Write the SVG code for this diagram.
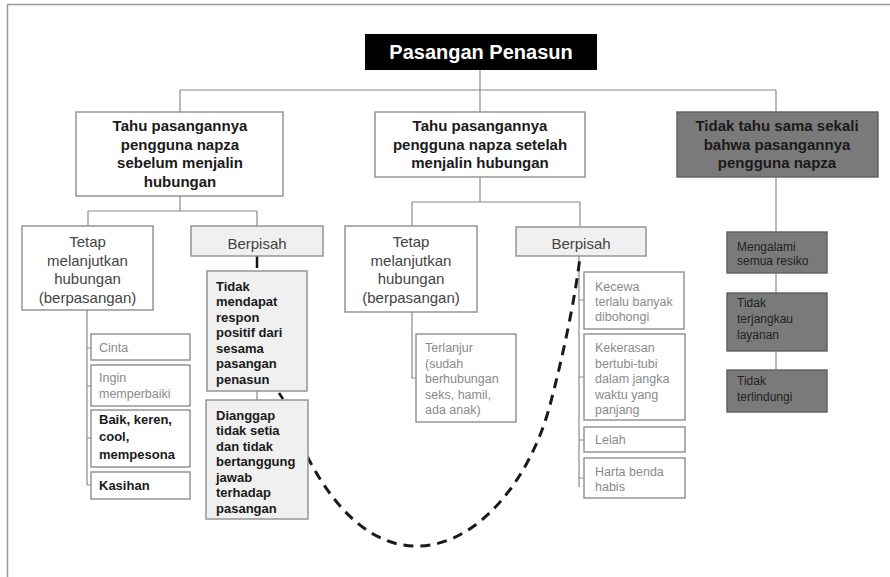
<svg xmlns="http://www.w3.org/2000/svg" width="890" height="577" viewBox="0 0 890 577">
<style>
text{font-family:"Liberation Sans",Arial,sans-serif}
.box{fill:#fff;stroke:#8e8e8e;stroke-width:1.4}
.lt{fill:#f0f0f0;stroke:#8e8e8e;stroke-width:1.4}
.dk{fill:#7a7a7a;stroke:#5e5e5e;stroke-width:1.4}
.h{font-size:15px;font-weight:bold;fill:#1a1a1a;text-anchor:middle}
.m{font-size:15px;fill:#444;text-anchor:middle}
.b{font-size:13px;font-weight:bold;fill:#1a1a1a}
.s{font-size:12.5px;fill:#8a8a8a}
.d{font-size:12px;fill:#222}
.c{fill:none;stroke:#8a8a8a;stroke-width:1.2}
</style>
<rect width="890" height="577" fill="#fff"/>
<path d="M7.5 577V4.5H890" fill="none" stroke="#9a9a9a" stroke-width="1.5"/>
<g id="connectors">
<path class="c" d="M480 70V90M180 90H776M180 90V112M480 90V112M776 90V112"/>
<path class="c" d="M180 196V211M88 211H257M88 211V226M257 211V226"/>
<path class="c" d="M480 177V202M412 202H580M412 202V226M580 202V226"/>
<path class="c" d="M87 310V485M87 348H92M87 386H92M87 438H92M87 485H92"/>
<path class="c" d="M257 391V400"/>
<path class="c" d="M412 312V378H416"/>
<path class="c" d="M579 256V487M579 300H584M579 377H584M579 440H584M579 478H584"/>
<path class="c" d="M776 177V232M776 273V293M776 351V370"/>
<path d="M257 256V268" stroke="#111" stroke-width="2.5"/>
<path d="M279 393L283 399" stroke="#111" stroke-width="2.5"/>
<path d="M307 456C340 520 380 548 420 546C478 544 530 480 550 405C562 360 575 300 580 257" fill="none" stroke="#1a1a1a" stroke-width="3" stroke-dasharray="10 7"/>
</g>
<g id="root">
<rect x="365" y="34" width="232" height="36" fill="#000"/>
<text x="481" y="59" style="font-size:20px;font-weight:bold;fill:#fff;text-anchor:middle">Pasangan Penasun</text>
</g>
<g id="n1">
<rect class="box" x="76" y="112" width="207" height="84"/>
<text class="h"><tspan x="180" y="131">Tahu pasangannya</tspan><tspan x="180" y="149.5">pengguna napza</tspan><tspan x="180" y="168">sebelum menjalin</tspan><tspan x="180" y="186.5">hubungan</tspan></text>
</g>
<g id="n2">
<rect class="box" x="375" y="112" width="210" height="65"/>
<text class="h"><tspan x="480" y="131">Tahu pasangannya</tspan><tspan x="480" y="150">pengguna napza setelah</tspan><tspan x="480" y="168">menjalin hubungan</tspan></text>
</g>
<g id="n3">
<rect class="dk" x="677" y="112" width="201" height="65"/>
<text class="h"><tspan x="777" y="131">Tidak tahu sama sekali</tspan><tspan x="777" y="150">bahwa pasangannya</tspan><tspan x="777" y="168">pengguna napza</tspan></text>
</g>
<g id="tetap1">
<rect class="box" x="22" y="226" width="131" height="84"/>
<text class="m"><tspan x="87.5" y="247">Tetap</tspan><tspan x="87.5" y="265.5">melanjutkan</tspan><tspan x="87.5" y="284">hubungan</tspan><tspan x="87.5" y="302.5">(berpasangan)</tspan></text>
</g>
<g id="berpisah1">
<rect class="lt" x="191" y="226" width="132" height="30"/>
<text class="m" x="257" y="248.5">Berpisah</text>
</g>
<g id="tidakmendapat">
<rect class="lt" x="207" y="271" width="100" height="120"/>
<text class="b"><tspan x="216" y="290.5">Tidak</tspan><tspan x="216" y="306">mendapat</tspan><tspan x="216" y="321.5">respon</tspan><tspan x="216" y="337">positif dari</tspan><tspan x="216" y="352.5">sesama</tspan><tspan x="216" y="368">pasangan</tspan><tspan x="216" y="383.5">penasun</tspan></text>
</g>
<g id="dianggap">
<rect class="lt" x="206" y="400" width="102" height="119"/>
<text class="b"><tspan x="216" y="419.5">Dianggap</tspan><tspan x="216" y="435">tidak setia</tspan><tspan x="216" y="450.5">dan tidak</tspan><tspan x="216" y="466">bertanggung</tspan><tspan x="216" y="481.5">jawab</tspan><tspan x="216" y="497">terhadap</tspan><tspan x="216" y="512.5">pasangan</tspan></text>
</g>
<g id="cinta">
<rect class="box" x="91" y="334" width="99" height="26"/>
<text class="s" x="99" y="351.5">Cinta</text>
</g>
<g id="ingin">
<rect class="box" x="91" y="365" width="99" height="41"/>
<text class="s"><tspan x="99" y="382">Ingin</tspan><tspan x="99" y="398">memperbaiki</tspan></text>
</g>
<g id="baik">
<rect class="box" x="91" y="410" width="99" height="57"/>
<text class="b"><tspan x="99" y="423.5">Baik, keren,</tspan><tspan x="99" y="441">cool,</tspan><tspan x="99" y="459">mempesona</tspan></text>
</g>
<g id="kasihan">
<rect class="box" x="91" y="472" width="99" height="27"/>
<text class="b" x="99" y="490">Kasihan</text>
</g>
<g id="tetap2">
<rect class="box" x="345" y="226" width="132" height="86"/>
<text class="m"><tspan x="411" y="247">Tetap</tspan><tspan x="411" y="265.5">melanjutkan</tspan><tspan x="411" y="284">hubungan</tspan><tspan x="411" y="302.5">(berpasangan)</tspan></text>
</g>
<g id="berpisah2">
<rect class="lt" x="516" y="227" width="130" height="29"/>
<text class="m" x="581" y="248.5">Berpisah</text>
</g>
<g id="terlanjur">
<rect class="box" x="416" y="334" width="100" height="88"/>
<text class="s"><tspan x="425" y="352">Terlanjur</tspan><tspan x="425" y="367.5">(sudah</tspan><tspan x="425" y="383">berhubungan</tspan><tspan x="425" y="398.5">seks, hamil,</tspan><tspan x="425" y="414">ada anak)</tspan></text>
</g>
<g id="kecewa">
<rect class="box" x="584" y="272" width="100" height="57"/>
<text class="s"><tspan x="595" y="291">Kecewa</tspan><tspan x="595" y="306">terlalu banyak</tspan><tspan x="595" y="321">dibohongi</tspan></text>
</g>
<g id="kekerasan">
<rect class="box" x="584" y="334" width="101" height="86"/>
<text class="s"><tspan x="595" y="352">Kekerasan</tspan><tspan x="595" y="367.5">bertubi-tubi</tspan><tspan x="595" y="383">dalam jangka</tspan><tspan x="595" y="398.5">waktu yang</tspan><tspan x="595" y="414">panjang</tspan></text>
</g>
<g id="lelah">
<rect class="box" x="584" y="427" width="101" height="25"/>
<text class="s" x="595" y="444">Lelah</text>
</g>
<g id="harta">
<rect class="box" x="584" y="458" width="101" height="40"/>
<text class="s"><tspan x="595" y="476">Harta benda</tspan><tspan x="595" y="491">habis</tspan></text>
</g>
<g id="mengalami">
<rect class="dk" x="727" y="232" width="100" height="41"/>
<text class="d"><tspan x="737" y="251">Mengalami</tspan><tspan x="737" y="265">semua resiko</tspan></text>
</g>
<g id="terjangkau">
<rect class="dk" x="727" y="293" width="100" height="58"/>
<text class="d"><tspan x="737" y="307">Tidak</tspan><tspan x="737" y="323">terjangkau</tspan><tspan x="737" y="339">layanan</tspan></text>
</g>
<g id="terlindungi">
<rect class="dk" x="727" y="370" width="100" height="42"/>
<text class="d"><tspan x="737" y="385">Tidak</tspan><tspan x="737" y="401">terlindungi</tspan></text>
</g>
</svg>
